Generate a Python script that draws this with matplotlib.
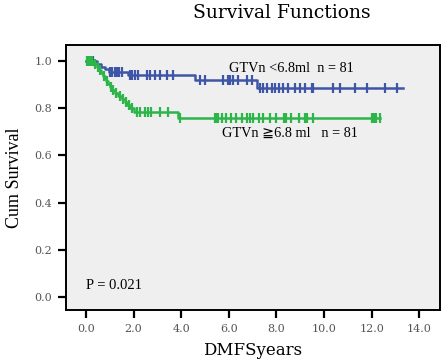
import numpy as np
import matplotlib.pyplot as plt

# Kaplan-Meier steps
blue_t = [0.0, 0.45, 0.65, 0.8, 0.95, 1.76, 4.58, 7.2]
blue_s = [1.0, 0.988, 0.976, 0.964, 0.955, 0.94, 0.918, 0.885]
blue_end = 13.3
blue_cens = [0.1, 0.2, 0.3, 1.0, 1.1, 1.2, 1.3, 1.4, 1.5, 1.85, 1.95, 2.05, 2.2,
             2.55, 2.7, 2.9, 3.1, 3.4, 3.66, 4.8, 5.0, 5.76, 5.97, 6.05, 6.18,
             6.39, 6.76, 6.97, 7.31, 7.44, 7.6, 7.8, 7.94, 8.1, 8.28, 8.49, 8.78,
             8.99, 9.2, 9.5, 9.55, 10.38, 10.67, 11.3, 11.8, 12.56, 13.07]

green_t = [0.0, 0.3, 0.45, 0.55, 0.65, 0.72, 0.78, 0.85, 0.92, 1.0, 1.1, 1.2,
           1.35, 1.5, 1.62, 1.72, 1.85, 2.0, 3.85]
green_s = [1.0, 0.988, 0.975, 0.963, 0.95, 0.938, 0.926, 0.914, 0.901, 0.889,
           0.877, 0.864, 0.852, 0.840, 0.827, 0.815, 0.80, 0.785, 0.757]
green_end = 12.35
green_cens = [0.05, 0.12, 0.2, 0.27, 0.38, 0.5, 0.6, 0.75, 0.88, 1.05, 1.15,
              1.28, 1.42, 1.55, 1.68, 1.8, 1.92, 2.15, 2.27, 2.5, 2.6, 2.75,
              3.1, 3.45, 3.95, 5.4, 5.45, 5.55, 5.7, 5.9, 6.1, 6.3, 6.55, 6.75,
              6.9, 7.0, 7.25, 7.45, 7.75, 8.0, 8.3, 8.4, 8.6, 8.95, 9.2, 9.3,
              9.55, 12.0, 12.1, 12.2, 12.35]

blue_c = '#3F55A8'
green_c = '#2DB54A'
serif = ['Liberation Serif', 'DejaVu Serif', 'DejaVu Sans', 'Noto Sans CJK SC']
wide = ['DejaVu Serif', 'Liberation Serif']
plt.rcParams['font.family'] = serif


def km_at(t_steps, s_steps, times):
    idx = np.searchsorted(t_steps, times, side='right') - 1
    return np.array(s_steps)[idx]


fig = plt.figure(figsize=(4.43, 3.62), dpi=100)
ax = fig.add_axes([0.149, 0.144, 0.844, 0.732])
ax.set_facecolor('#EFEFEF')

for t_s, s_s, end, cens, col in [(blue_t, blue_s, blue_end, blue_cens, blue_c),
                                 (green_t, green_s, green_end, green_cens, green_c)]:
    tt = list(t_s) + [end]
    ss = list(s_s) + [s_s[-1]]
    ax.step(tt, ss, where='post', color=col, lw=1.8)
    ax.plot(cens, km_at(t_s, s_s, cens), ls='none', marker='|', ms=7,
            mew=1.6, color=col)

ax.set_xlim(-0.84, 14.87)
ax.set_ylim(-0.055, 1.068)
ax.set_xticks(np.arange(0, 15, 2))
ax.set_xticklabels([f'{v:.1f}' for v in np.arange(0, 15, 2)], family=wide)
ax.set_yticks(np.arange(0, 1.01, 0.2))
ax.set_yticklabels([f'{v:.1f}' for v in np.arange(0, 1.01, 0.2)], family=wide)
ax.tick_params(length=6, width=1.6, labelsize=8, labelcolor='#555555', pad=4)
for sp in ax.spines.values():
    sp.set_linewidth(1.4)

ax.text(6.0, 0.97, 'GTVn <6.8ml  n = 81', fontsize=10.3, va='center')
ax.text(5.7, 0.695, 'GTVn \u22676.8 ml   n = 81', fontsize=10.3, va='center')
ax.text(0.0, 0.05, 'P = 0.021', fontsize=10.5, va='center')

ax.set_xlabel('DMFSyears', fontsize=12, family=wide, labelpad=6)
ax.set_ylabel('Cum Survival', fontsize=13, labelpad=8)
fig.text(0.637, 0.965, 'Survival Functions', fontsize=13.5, family=wide,
         ha='center', va='center')

fig.savefig('out.png', dpi=100)
